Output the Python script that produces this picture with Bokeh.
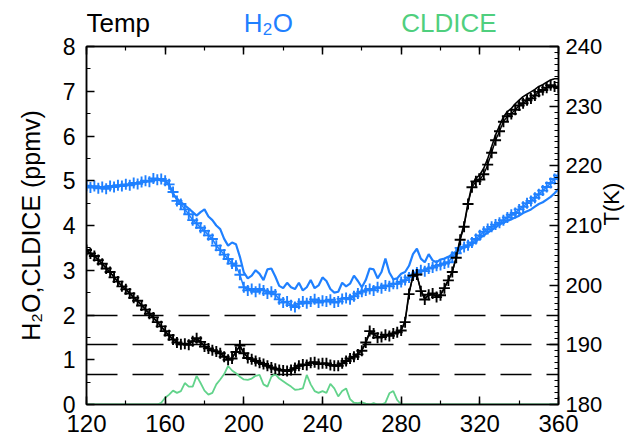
import math
from bokeh.plotting import figure
from bokeh.layouts import column
from bokeh.models import Range1d, LinearAxis, SingleIntervalTicker, FixedTicker
from bokeh.core.properties import value
from bokeh.embed import file_html
from bokeh.resources import INLINE

# ---------------- data ----------------
X = list(range(120, 361, 2))

TEMP_MARK = [
    205.9, 205.3, 204.9, 204.2, 203.6, 202.8, 202.2, 201.3, 200.6, 199.8,
    199.3, 198.6, 197.9, 197.4, 196.6, 195.9, 195.2, 194.6, 193.8, 193.1,
    192.3, 191.6, 190.9, 190.4, 190.1, 190.2, 190.0, 190.6, 191.1, 190.5,
    189.7, 189.4, 189.1, 188.9, 188.6, 188.0, 187.5, 187.7, 188.8, 189.9,
    188.6, 187.8, 187.6, 187.3, 187.0, 186.8, 186.5, 186.2, 186.0, 185.8,
    185.7, 185.6, 185.8, 186.1, 186.5, 186.7, 186.6, 187.0, 187.1, 186.8,
    186.9, 186.9, 186.6, 186.5, 186.5, 186.9, 187.3, 187.7, 188.0, 188.4,
    189.0, 190.4, 192.3, 191.9, 191.2, 191.3, 191.7, 191.5, 191.9, 192.1,
    192.4, 193.8, 198.5, 201.6, 201.8, 199.0, 197.6, 198.4, 198.6, 198.0,
    198.3, 199.5, 200.8, 202.2, 204.6, 207.6, 209.8, 213.6, 216.4, 217.4,
    217.7, 218.6, 220.2, 222.2, 224.3, 225.8, 227.4, 228.3, 228.7, 229.4,
    230.1, 230.5, 231.0, 231.3, 231.8, 232.4, 232.7, 233.1, 233.5, 233.3,
    233.1,
]

TEMP_LINE = [
    205.7, 205.4, 204.8, 204.3, 203.5, 202.9, 202.1, 201.4, 200.5, 199.9,
    199.2, 198.7, 197.9, 197.3, 196.7, 195.9, 195.3, 194.5, 193.9, 193.0,
    192.3, 191.5, 191.0, 190.4, 190.2, 190.1, 190.2, 190.7, 191.0, 190.4,
    189.8, 189.4, 189.2, 188.8, 188.5, 188.1, 187.6, 187.8, 188.9, 189.8,
    188.7, 187.9, 187.5, 187.2, 187.0, 186.7, 186.4, 186.2, 186.0, 185.9,
    185.8, 185.7, 185.9, 186.2, 186.4, 186.6, 186.7, 186.9, 187.0, 186.9,
    186.8, 186.8, 186.7, 186.6, 186.6, 186.9, 187.2, 187.6, 188.1, 188.5,
    189.1, 190.3, 192.0, 191.8, 191.3, 191.4, 191.6, 191.6, 191.8, 192.1,
    192.5, 194.0, 198.8, 201.5, 201.6, 199.2, 197.8, 198.3, 198.5, 198.1,
    198.4, 199.6, 200.9, 202.3, 204.7, 207.8, 210.2, 213.8, 216.8, 217.9,
    218.5, 219.6, 221.2, 223.2, 225.2, 226.7, 228.2, 229.1, 229.6, 230.4,
    231.0, 231.6, 232.0, 232.4, 232.8, 233.3, 233.6, 234.0, 234.4, 234.6,
    234.6,
]

H2O_MARK = [
    4.89, 4.85, 4.88, 4.83, 4.86, 4.82, 4.88, 4.86, 4.90, 4.88,
    4.92, 4.90, 4.95, 4.93, 4.97, 5.00, 4.98, 5.05, 5.02, 5.04,
    5.00, 4.92, 4.75, 4.55, 4.48, 4.36, 4.25, 4.12, 4.05, 3.95,
    3.88, 3.78, 3.70, 3.55, 3.45, 3.35, 3.25, 3.15, 3.10, 2.90,
    2.62, 2.55, 2.58, 2.52, 2.58, 2.55, 2.48, 2.52, 2.46, 2.35,
    2.28, 2.30, 2.22, 2.18, 2.25, 2.30, 2.26, 2.30, 2.35, 2.28,
    2.32, 2.30, 2.34, 2.28, 2.30, 2.36, 2.38, 2.35, 2.42, 2.48,
    2.52, 2.55, 2.58, 2.55, 2.62, 2.60, 2.66, 2.64, 2.70, 2.70,
    2.74, 2.78, 2.84, 2.90, 2.95, 3.00, 2.98, 3.04, 3.06, 3.10,
    3.12, 3.15, 3.18, 3.30, 3.38, 3.50, 3.52, 3.56, 3.62, 3.70,
    3.78, 3.86, 3.92, 3.97, 4.02, 4.06, 4.12, 4.18, 4.24, 4.28,
    4.36, 4.42, 4.50, 4.55, 4.62, 4.70, 4.78, 4.86, 4.95, 5.04,
    5.12,
]

H2O_LINE = [
    4.88, 4.87, 4.87, 4.86, 4.86, 4.87, 4.88, 4.88, 4.89, 4.90,
    4.91, 4.92, 4.93, 4.95, 4.96, 4.98, 5.00, 5.01, 5.02, 5.02,
    5.00, 4.90, 4.70, 4.60, 4.52, 4.45, 4.38, 4.30, 4.22, 4.30,
    4.36, 4.20, 4.12, 4.00, 3.92, 3.70, 3.55, 3.62, 3.58, 3.30,
    2.95, 2.82, 2.88, 3.00, 2.92, 2.78, 3.02, 3.04, 2.86, 2.65,
    2.60, 2.72, 2.62, 2.58, 2.72, 2.55, 2.62, 2.78, 2.60, 2.66,
    2.84, 2.76, 2.58, 2.50, 2.52, 2.72, 2.64, 2.70, 2.88, 2.76,
    2.62, 2.78, 3.04, 3.02, 2.82, 2.96, 3.26, 2.95, 2.80, 2.82,
    2.92, 2.96, 3.10, 3.36, 3.48, 3.26, 3.18, 3.36, 3.22, 3.18,
    3.24, 3.26, 3.30, 3.36, 3.42, 3.46, 3.52, 3.55, 3.58, 3.64,
    3.72, 3.78, 3.84, 3.90, 3.96, 4.02, 4.06, 4.10, 4.14, 4.18,
    4.22, 4.28, 4.32, 4.36, 4.42, 4.48, 4.52, 4.58, 4.64, 4.72,
    4.82,
]

CLDICE = [
    0, 0, 0, 0, 0, 0, 0, 0, 0, 0,
    0, 0, 0, 0, 0, 0, 0, 0, 0, 0.04,
    0.15, 0.22, 0.31, 0.26, 0.30, 0.48, 0.40, 0.40, 0.64, 0.48,
    0.31, 0.22, 0.26, 0.45, 0.56, 0.68, 0.86, 0.76, 0.70, 0.62,
    0.56, 0.55, 0.58, 0.64, 0.66, 0.45, 0.40, 0.62, 0.68, 0.58,
    0.52, 0.46, 0.40, 0.33, 0.34, 0.36, 0.66, 0.45, 0.30, 0.26,
    0.30, 0.26, 0.46, 0.36, 0.18, 0.30, 0.36, 0.12, 0.04, 0.03,
    0.05, 0.02, 0, 0.03, 0, 0, 0.04, 0.25, 0.30, 0.10,
    0, 0, 0, 0, 0, 0, 0, 0, 0, 0,
    0, 0, 0, 0, 0, 0, 0, 0, 0, 0,
    0, 0, 0, 0, 0, 0, 0, 0, 0, 0,
    0, 0, 0, 0, 0, 0, 0, 0, 0, 0,
    0,
]

DASH_T = [195, 190, 185]          # K, dashed reference levels
X_RANGE = (120, 360)
LEFT_RANGE = (0, 8)
T_RANGE = (180, 240)
HEADER_X = [120, 200, 280]        # where the three series names start
HEADER_TEXT = ["Temp", "H", "2", "O", "CLDICE"]

BLUE = "#1f80ff"
GREEN = "#4fcf7e"
GREEN_LINE = "#62d38b"
FONT = "Liberation Sans"

# ---------------- layout constants ----------------
W = 639
OVERLAP = 8
B_LEFT, B_RIGHT, B_TOP, B_BOTTOM = 86, 79, 6 + OVERLAP, 38
FRAME_H = 358
HEAD_H = 40


def drop_title(fig):
    try:
        fig.title_location = None
    except Exception:
        pass


# ---------------- header (series names) ----------------
head = figure(
    width=W, height=HEAD_H,
    x_range=Range1d(*X_RANGE), y_range=Range1d(0, HEAD_H),
    x_axis_type=None, y_axis_type=None,
    min_border_left=0, min_border_right=0, min_border_top=0, min_border_bottom=0,
    output_backend="svg", toolbar_location=None,
)
drop_title(head)
head.outline_line_color = None
head.xgrid.visible = False
head.ygrid.visible = False
BASE = 18
head.text(x=[HEADER_X[0]], y=[BASE], text=[HEADER_TEXT[0]], text_font=value(FONT),
          text_font_size="26px", text_color="black", text_baseline="alphabetic", text_align="left")
head.text(x=[HEADER_X[1]], y=[BASE], text=[HEADER_TEXT[1]], text_font=value(FONT),
          text_font_size="26px", text_color=BLUE, text_baseline="alphabetic", text_align="left")
head.text(x=[HEADER_X[1]], y=[BASE - 6], x_offset=19, text=[HEADER_TEXT[2]], text_font=value(FONT),
          text_font_size="17px", text_color=BLUE, text_baseline="alphabetic", text_align="left")
head.text(x=[HEADER_X[1]], y=[BASE], x_offset=29, text=[HEADER_TEXT[3]], text_font=value(FONT),
          text_font_size="26px", text_color=BLUE, text_baseline="alphabetic", text_align="left")
head.text(x=[HEADER_X[2]], y=[BASE], text=[HEADER_TEXT[4]], text_font=value(FONT),
          text_font_size="26px", text_color=GREEN, text_baseline="alphabetic", text_align="left")

# ---------------- main figure ----------------
p = figure(
    width=W, height=B_TOP + FRAME_H + B_BOTTOM,
    min_border_left=B_LEFT, min_border_right=B_RIGHT,
    min_border_top=B_TOP, min_border_bottom=B_BOTTOM,
    x_range=Range1d(*X_RANGE), y_range=Range1d(*LEFT_RANGE),
    output_backend="svg", toolbar_location=None,
)
drop_title(p)
p.margin = (-OVERLAP, 0, 0, 0)
p.border_fill_color = None
p.background_fill_color = "white"
p.extra_y_ranges = {"T": Range1d(*T_RANGE)}
p.xgrid.visible = False
p.ygrid.visible = False
p.outline_line_color = "black"
p.outline_line_width = 1.5

bottom_axis = p.below[0]
left_axis = p.left[0]
bottom_axis.ticker = SingleIntervalTicker(interval=40, num_minor_ticks=2)

top_axis = LinearAxis(ticker=SingleIntervalTicker(interval=40, num_minor_ticks=2),
                      major_label_standoff=0)
p.add_layout(top_axis, "above")

left_axis.ticker = SingleIntervalTicker(interval=1, num_minor_ticks=2)
left_axis.axis_label = "H\u2082O,CLDICE (ppmv)"
left_axis.axis_label_text_font = FONT
left_axis.axis_label_text_font_size = "25px"
left_axis.axis_label_text_font_style = "normal"
left_axis.axis_label_text_color = "black"
left_axis.axis_label_standoff = 15
left_axis.major_label_standoff = 11

right_axis = LinearAxis(y_range_name="T",
                        ticker=SingleIntervalTicker(interval=10, num_minor_ticks=10))
p.add_layout(right_axis, "right")
right_axis.major_label_standoff = 7

for ax in [bottom_axis, top_axis, left_axis, right_axis]:
    ax.axis_line_color = "black"
    ax.axis_line_width = 1.5
    ax.major_tick_line_color = "black"
    ax.minor_tick_line_color = "black"
    ax.major_tick_line_width = 1.5
    ax.minor_tick_line_width = 1.2
    ax.major_tick_out = 0
    ax.minor_tick_out = 0
    ax.major_tick_in = 8
    ax.minor_tick_in = 4
    ax.major_label_text_font = FONT
    ax.major_label_text_color = "black"
top_axis.major_label_text_color = None
top_axis.major_label_text_font_size = "2px"
bottom_axis.major_label_text_font_size = "24px"
bottom_axis.major_label_standoff = 10
left_axis.major_label_text_font_size = "23px"
right_axis.major_label_text_font_size = "22px"
right_axis.major_tick_in = 9
right_axis.minor_tick_in = 4

# right-hand title "T(K)", reading bottom-to-top, on its own tick-less axis
t_axis = LinearAxis(y_range_name="T", ticker=FixedTicker(ticks=[]),
                    axis_line_color=None, major_tick_line_color=None,
                    minor_tick_line_color=None, major_label_text_color=None,
                    major_label_text_font_size="2px", major_label_standoff=0,
                    major_tick_in=0, major_tick_out=0, minor_tick_in=0, minor_tick_out=0)
t_axis.axis_label = "T(K)"
t_axis.axis_label_text_font = FONT
t_axis.axis_label_text_font_size = "22px"
t_axis.axis_label_text_font_style = "normal"
t_axis.axis_label_text_color = "black"
t_axis.axis_label_text_align = "center"
t_axis.axis_label_standoff = 6
if "axis_label_orientation" in t_axis.properties():
    t_axis.axis_label_orientation = math.pi / 2
p.add_layout(t_axis, "right")

# dashed reference levels
p.hspan(y=DASH_T, y_range_name="T", line_color="black", line_width=1.5, line_dash="31 15")

# series
p.line(X, CLDICE, line_color=GREEN_LINE, line_width=1.8)
p.line(X, H2O_LINE, line_color=BLUE, line_width=2.2)
p.line(X, H2O_MARK, line_color=BLUE, line_width=1.5)
p.scatter(X, H2O_MARK, marker="cross", size=11, line_color=BLUE, line_width=1.9)
p.line(X, TEMP_LINE, y_range_name="T", line_color="black", line_width=1.6)
p.line(X, TEMP_MARK, y_range_name="T", line_color="black", line_width=1.3)
p.scatter(X, TEMP_MARK, y_range_name="T", marker="cross", size=11,
          line_color="black", line_width=1.9)

layout = column(head, p, spacing=0)
open("out.html", "w").write(file_html(layout, INLINE))
